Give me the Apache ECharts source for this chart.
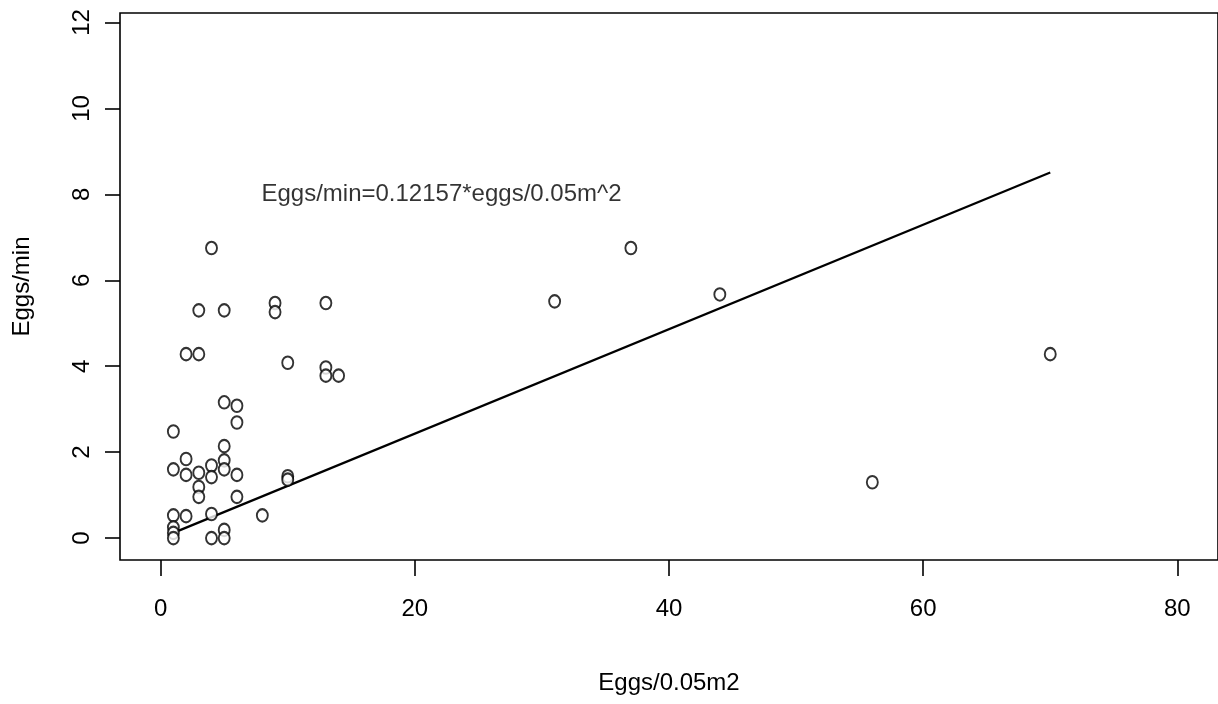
<!DOCTYPE html>
<html>
<head>
<meta charset="utf-8">
<script src="https://cdn.jsdelivr.net/npm/echarts@6/dist/echarts.min.js"></script>
<style>html,body{margin:0;padding:0;background:#fff;}#c{width:1218px;height:704px;}</style>
</head>
<body>
<div id="c"></div>
<script>
// Eggs/0.05m2 (x) and Eggs/min (y)
const eggsPerArea = [1,1,1,1,1,1, 2,2,2,2, 3,3,3,3,3, 4,4,4,4,4, 5,5,5,5,5,5,5, 6,6,6,6, 8, 9,9, 10,10,10, 13,13,13, 14, 31, 37, 44, 56, 70];
const eggsPerMin  = [2.48,1.6,0.53,0.25,0.12,0.0, 4.28,1.84,1.47,0.51, 5.3,4.28,1.52,1.19,0.96, 6.75,1.69,1.42,0.56,0.0, 5.3,3.16,2.14,1.81,1.6,0.19,0.0, 3.08,2.69,1.47,0.96, 0.53, 5.47,5.26, 4.08,1.44,1.36, 5.47,3.97,3.78, 3.78, 5.51, 6.75, 5.67, 1.30, 4.28];
// fitted regression through origin
const slope = 0.12157;
const fitX = [1, 70];
// tick labels
const xTicks = [0, 20, 40, 60, 80];
const yTicks = [0, 2, 4, 6, 8, 10, 12];
const noteText = 'Eggs/min=0.12157*eggs/0.05m^2';
const noteAt = [22.1, 8];
const xTitle = 'Eggs/0.05m2';
const yTitle = 'Eggs/min';

const points = eggsPerArea.map((x, i) => [x, eggsPerMin[i]]);
const fitLine = fitX.map(x => [x, slope * x]);

const FONT = '"Liberation Sans", Arial, sans-serif';
const chart = echarts.init(document.getElementById('c'), null, {renderer: 'canvas'});
chart.setOption({
  animation: false,
  backgroundColor: '#fff',
  grid: {left: 120, right: -4.5, top: 13, bottom: 144, show: true, borderColor: '#000', borderWidth: 1.6, backgroundColor: 'transparent'},
  xAxis: {
    type: 'value', min: -3.2, max: 83.2,
    name: xTitle, nameLocation: 'middle', nameGap: 111,
    nameTextStyle: {fontFamily: FONT, fontSize: 24, color: '#000'},
    axisLine: {show: false, onZero: false},
    splitLine: {show: false},
    axisTick: {show: true, length: 16, inside: false, lineStyle: {color: '#000', width: 1.6}, customValues: xTicks},
    axisLabel: {fontFamily: FONT, fontSize: 24, color: '#000', margin: 37, customValues: xTicks}
  },
  yAxis: {
    type: 'value', min: -0.51, max: 12.22,
    name: yTitle, nameLocation: 'middle', nameGap: 86, nameRotate: 90,
    nameTextStyle: {fontFamily: FONT, fontSize: 24, color: '#000'},
    axisLine: {show: false, onZero: false},
    splitLine: {show: false},
    axisTick: {show: true, length: 15, inside: false, lineStyle: {color: '#000', width: 1.6}, customValues: yTicks},
    axisLabel: {fontFamily: FONT, fontSize: 24, color: '#000', margin: 26, rotate: 90, customValues: yTicks}
  },
  series: [
    {
      type: 'scatter', data: points, symbol: 'emptyCircle', symbolSize: [11, 12.5],
      itemStyle: {color: '#000', borderColor: '#000', borderWidth: 1.5},
      silent: true, z: 3
    },
    {
      type: 'line', data: fitLine, showSymbol: false, symbol: 'none',
      lineStyle: {color: '#000', width: 2.2}, silent: true, z: 2
    },
    {
      type: 'scatter', data: [noteAt], symbolSize: 0, silent: true,
      label: {show: true, position: 'inside', formatter: noteText, fontFamily: FONT, fontSize: 24, color: '#000', textBorderWidth: 0}
    }
  ]
});
</script>
</body>
</html>
